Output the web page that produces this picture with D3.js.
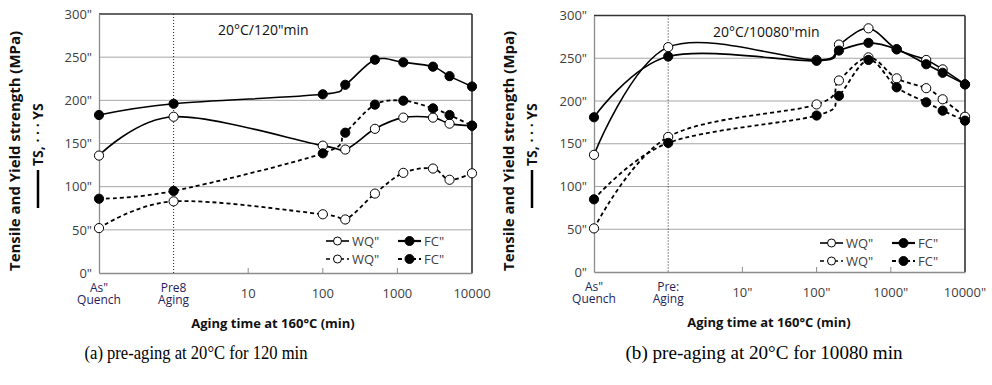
<!DOCTYPE html>
<html>
<head>
<meta charset="utf-8">
<script src="https://cdn.jsdelivr.net/npm/d3@7"></script>
<style>
  body { margin: 0; background: #fff; }
  svg { display: block; font-family: "Open Sans", sans-serif; }
</style>
</head>
<body>
<svg id="chart" width="992" height="385"></svg>
<script>
// aging times at 160°C (min); 0.1 = as quenched, 1 = pre-aged
const agingTimes = [0.1, 1, 100, 200, 500, 1200, 3000, 5000, 10000];
const tickValues = [0.1, 1, 10, 100, 1000, 10000];
const yTicks = [0, 50, 100, 150, 200, 250, 300];

// (a) pre-aging 20°C / 120 min
const leftTsWq = [136, 181, 147.5, 143, 167, 180, 180, 173, 170.6];
const leftTsFc = [183, 196, 207, 218, 247, 244, 239, 228, 216];
const leftYsWq = [52, 83, 68, 62, 92, 116, 121, 108, 115.5];
const leftYsFc = [86, 95, 138.6, 162.5, 195, 199.6, 190.7, 183, 170.6];
const leftTickLabels = [['As"', 'Quench'], ['Pre8', 'Aging'], ['10'], ['100'], ['1000'], ['10000']];

// (b) pre-aging 20°C / 10080 min
const rightTsWq = [137, 263, 248, 266, 285, 260.5, 248, 237, 219.5];
const rightTsFc = [181, 252, 247, 259, 268, 260.5, 243, 233, 219.5];
const rightYsWq = [51, 158, 196, 224, 251, 226.5, 215, 202, 181.6];
const rightYsFc = [85, 151, 183, 206, 248, 216, 198.5, 188.7, 177];
const rightTickLabels = [['As"', 'Quench'], ['Pre:', 'Aging'], ['10"'], ['100"'], ['1000"'], ['10000"']];

const svg = d3.select('#chart');
const sans = '"Open Sans", sans-serif';

function drawPanel(p) {
  const g = svg.append('g');
  const x = d3.scaleLog().domain([0.1, 10000]).range([p.x0, p.x1]);
  const y = d3.scaleLinear().domain([0, 300]).range([p.y0, p.y1]);

  // gridlines
  g.selectAll('.grid').data(yTicks.slice(1, -1)).enter().append('line')
    .attr('x1', p.x0).attr('x2', p.x1)
    .attr('y1', d => y(d)).attr('y2', d => y(d))
    .attr('stroke', '#a6a6a6').attr('stroke-width', 1);

  // frame
  g.append('line').attr('x1', p.x0).attr('x2', p.x1).attr('y1', y(300)).attr('y2', y(300))
    .attr('stroke', '#333').attr('stroke-width', 1.6);
  g.append('line').attr('x1', p.x1).attr('x2', p.x1).attr('y1', y(300)).attr('y2', y(0))
    .attr('stroke', '#333').attr('stroke-width', 1.6);

  // axes
  const yAxis = g.append('g').attr('transform', `translate(${p.x0},0)`)
    .call(d3.axisLeft(y).tickValues(yTicks).tickSize(0).tickPadding(7).tickFormat(d => d + '"'));
  yAxis.select('.domain').attr('stroke', '#8c8c8c').attr('stroke-width', 1.3);
  yAxis.selectAll('text').attr('font-size', 13).attr('fill', '#404040').attr('font-family', sans);

  const xAxis = g.append('g').attr('transform', `translate(0,${p.y0})`)
    .call(d3.axisBottom(x).tickValues(tickValues).tickSize(0).tickFormat(''));
  xAxis.select('.domain').attr('stroke', '#8c8c8c').attr('stroke-width', 1.3);
  g.selectAll('.xtick').data([10, 100, 1000]).enter().append('line')
    .attr('x1', d => x(d)).attr('x2', d => x(d))
    .attr('y1', p.y0).attr('y2', p.y0 - 5)
    .attr('stroke', '#8c8c8c');

  tickValues.forEach((t, i) => {
    const lines = p.tickLabels[i];
    if (lines.length > 1) {
      lines.forEach((s, k) => g.append('text').attr('x', x(t)).attr('y', p.y0 + 19 + k * 12)
        .attr('text-anchor', 'middle').attr('font-size', 12).attr('font-family', sans)
        .attr('fill', '#1f1f5a').text(s));
    } else {
      g.append('text').attr('x', x(t)).attr('y', p.y0 + 25).attr('text-anchor', 'middle')
        .attr('font-size', 13).attr('font-family', sans).attr('fill', '#404040').text(lines[0]);
    }
  });

  // pre-aging dotted marker
  g.append('line').attr('x1', x(1)).attr('x2', x(1)).attr('y1', y(300)).attr('y2', y(0))
    .attr('stroke', '#222').attr('stroke-width', 1).attr('stroke-dasharray', '1,2');

  // panel title
  g.append('text').attr('x', p.titleX).attr('y', y(300) + 21).attr('font-size', 14)
    .attr('font-family', sans).attr('fill', '#111').text(p.title);

  // series
  const line = d3.line().x(d => x(d[0])).y(d => y(d[1])).curve(d3.curveCardinal.tension(0));
  p.series.forEach(s => {
    const pts = agingTimes.map((t, i) => [t, s.values[i]]);
    g.append('path').datum(pts).attr('d', line).attr('fill', 'none')
      .attr('stroke', '#000').attr('stroke-width', s.dashed ? 1.8 : 1.6)
      .attr('stroke-dasharray', s.dashed ? '4,3' : null);
  });
  p.series.forEach(s => {
    g.selectAll(null).data(agingTimes.map((t, i) => [t, s.values[i]])).enter().append('circle')
      .attr('cx', d => x(d[0])).attr('cy', d => y(d[1])).attr('r', 4.6)
      .attr('fill', s.filled ? '#000' : '#fff').attr('stroke', '#000').attr('stroke-width', 1);
  });

  // legend
  const legendItems = [
    { row: 0, col: 0, filled: false, dashed: false, label: 'WQ"' },
    { row: 0, col: 1, filled: true, dashed: false, label: 'FC"' },
    { row: 1, col: 0, filled: false, dashed: true, label: 'WQ"' },
    { row: 1, col: 1, filled: true, dashed: true, label: 'FC"' }
  ];
  legendItems.forEach(it => {
    const lx = p.legendX + it.col * p.legendColW;
    const ly = p.legendY + it.row * 18;
    g.append('line').attr('x1', lx).attr('x2', lx + 23).attr('y1', ly).attr('y2', ly)
      .attr('stroke', '#000').attr('stroke-width', it.filled ? 2.2 : 1.6)
      .attr('stroke-dasharray', it.dashed ? '4,3' : null);
    g.append('circle').attr('cx', lx + 11.5).attr('cy', ly).attr('r', it.filled ? 4.5 : 4)
      .attr('fill', it.filled ? '#000' : '#fff').attr('stroke', '#000').attr('stroke-width', 1);
    g.append('text').attr('x', lx + 26).attr('y', ly + 5).attr('font-size', 13)
      .attr('font-family', sans).attr('fill', '#404040').text(it.label);
  });

  // y title (the source figure is stretched vertically, so fit the length)
  g.append('text').attr('transform', `translate(${p.yTitleX},151) rotate(-90)`)
    .attr('text-anchor', 'middle').attr('font-size', 14).attr('font-weight', 'bold')
    .attr('textLength', 240).attr('lengthAdjust', 'spacingAndGlyphs')
    .attr('font-family', sans).attr('fill', '#111').text(p.yTitle);
  g.append('line').attr('x1', p.yTitleX + 18).attr('x2', p.yTitleX + 18)
    .attr('y1', 170).attr('y2', 208).attr('stroke', '#000').attr('stroke-width', 2.5);
  g.append('text').attr('transform', `translate(${p.yTitleX + 23},166) rotate(-90)`)
    .attr('text-anchor', 'start').attr('font-size', 14).attr('font-weight', 'bold')
    .attr('font-family', sans).attr('fill', '#111').text('TS, \u00b7 \u00b7 \u00b7 YS');

  // x title
  g.append('text').attr('x', p.xTitleX).attr('y', p.y0 + 55).attr('text-anchor', 'middle')
    .attr('font-size', 13).attr('font-weight', 'bold').attr('font-family', sans).attr('fill', '#111')
    .text('Aging time at 160°C (min)');

  // caption
  svg.append('text').attr('x', p.captionX).attr('y', 359).attr('text-anchor', 'middle')
    .attr('font-family', '"Liberation Serif", "Times New Roman", serif')
    .attr('font-size', 19).attr('textLength', p.captionW).attr('lengthAdjust', 'spacingAndGlyphs')
    .attr('fill', '#000').text(p.caption);
}

drawPanel({
  x0: 99, x1: 472, y0: 273, y1: 14,
  tickLabels: leftTickLabels,
  title: '20°C/120"min', titleX: 218,
  series: [
    { values: leftTsWq, filled: false, dashed: false },
    { values: leftTsFc, filled: true, dashed: false },
    { values: leftYsWq, filled: false, dashed: true },
    { values: leftYsFc, filled: true, dashed: true }
  ],
  legendX: 326, legendColW: 72, legendY: 241,
  yTitleX: 20, yTitle: 'Tensile and Yield strength (MPa)',
  xTitleX: 273,
  captionX: 196, captionW: 223, caption: '(a) pre-aging at 20°C for 120 min'
});

drawPanel({
  x0: 594, x1: 965, y0: 272, y1: 15.5,
  tickLabels: rightTickLabels,
  title: '20°C/10080"min', titleX: 713,
  series: [
    { values: rightTsWq, filled: false, dashed: false },
    { values: rightTsFc, filled: true, dashed: false },
    { values: rightYsWq, filled: false, dashed: true },
    { values: rightYsFc, filled: true, dashed: true }
  ],
  legendX: 820, legendColW: 72, legendY: 243,
  yTitleX: 514, yTitle: 'Tensile and Yield strength (Mpa)',
  xTitleX: 769,
  captionX: 764, captionW: 277, caption: '(b) pre-aging at 20°C for 10080 min'
});
</script>
</body>
</html>
